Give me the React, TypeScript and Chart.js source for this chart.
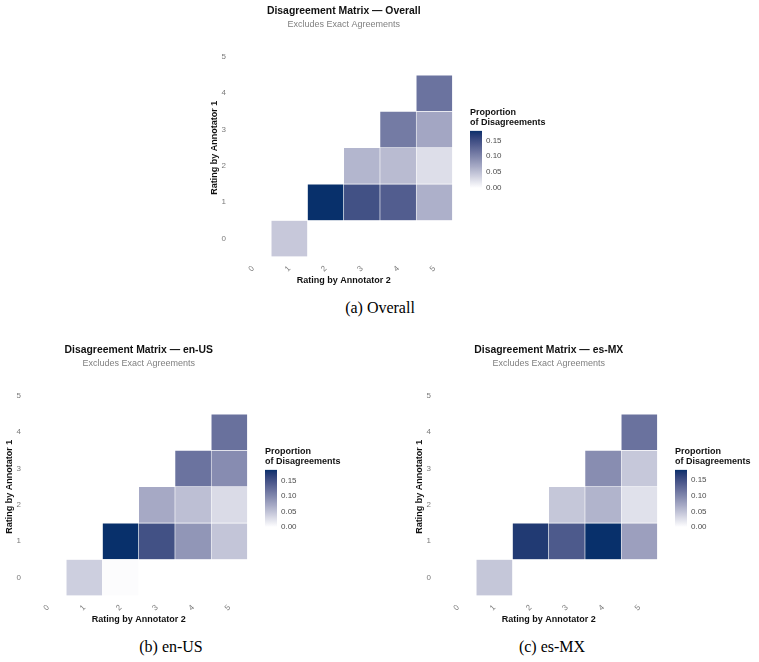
import React, { useEffect, useRef } from 'react';
import { Chart, registerables } from 'chart.js';

Chart.register(...registerables);

const FONT = '"Liberation Sans", Arial, Helvetica, sans-serif';
const SERIF = '"Liberation Serif", "Times New Roman", Times, serif';

// Ratings 0..5 used on both axes
const ratingLabels = ['0', '1', '2', '3', '4', '5'];
const legendTicks = [0, 0.05, 0.1, 0.15];

// Rows: rating by annotator 1, columns: rating by annotator 2 (null = no cell)
const overallMatrix: (number | null)[][] = [
  [null, 0.043, null, null, null, null],
  [null, null, 0.18, 0.147, 0.135, 0.063],
  [null, null, null, 0.058, 0.054, 0.026],
  [null, null, null, null, 0.108, 0.071],
  [null, null, null, null, null, 0.115],
  [null, null, null, null, null, null],
];

const enUSMatrix: (number | null)[][] = [
  [null, 0.039, 0.002, null, null, null],
  [null, null, 0.186, 0.152, 0.088, 0.047],
  [null, null, null, 0.071, 0.052, 0.029],
  [null, null, null, null, 0.119, 0.096],
  [null, null, null, null, null, 0.121],
  [null, null, null, null, null, null],
];

const esMXMatrix: (number | null)[][] = [
  [null, 0.045, null, null, null, null],
  [null, null, 0.172, 0.141, 0.183, 0.078],
  [null, null, null, 0.045, 0.061, 0.024],
  [null, null, null, null, 0.094, 0.044],
  [null, null, null, null, null, 0.118],
  [null, null, null, null, null, null],
];

const LOW_RGB = [255, 255, 255];
const HIGH_RGB = [8, 48, 107];

// --- colour interpolation in CIE Lab (white -> navy) ---
const WX = 0.95047;
const WZ = 1.08883;
const toLin = (c: number) => {
  const s = c / 255;
  return s <= 0.04045 ? s / 12.92 : Math.pow((s + 0.055) / 1.055, 2.4);
};
const fromLin = (v: number) => {
  const s = v <= 0.0031308 ? 12.92 * v : 1.055 * Math.pow(Math.max(v, 0), 1 / 2.4) - 0.055;
  return Math.round(Math.min(1, Math.max(0, s)) * 255);
};
function rgbToLab(rgb: number[]) {
  const [r, g, b] = rgb.map(toLin);
  const x = (0.4124564 * r + 0.3575761 * g + 0.1804375 * b) / WX;
  const y = 0.2126729 * r + 0.7151522 * g + 0.072175 * b;
  const z = (0.0193339 * r + 0.119192 * g + 0.9503041 * b) / WZ;
  const f = (t: number) => (t > 216 / 24389 ? Math.cbrt(t) : ((24389 / 27) * t + 16) / 116);
  const fx = f(x), fy = f(y), fz = f(z);
  return [116 * fy - 16, 500 * (fx - fy), 200 * (fy - fz)];
}
function labToRgb(lab: number[]) {
  const [L, a, b] = lab;
  const fy = (L + 16) / 116;
  const fx = fy + a / 500;
  const fz = fy - b / 200;
  const inv = (t: number) => (t * t * t > 216 / 24389 ? t * t * t : (116 * t - 16) / (24389 / 27));
  const x = inv(fx) * WX, y = inv(fy), z = inv(fz) * WZ;
  const r = 3.2404542 * x - 1.5371385 * y - 0.4985314 * z;
  const g = -0.969266 * x + 1.8760108 * y + 0.041556 * z;
  const bl = 0.0556434 * x - 0.2040259 * y + 1.0572252 * z;
  return [fromLin(r), fromLin(g), fromLin(bl)];
}
const LOW_LAB = rgbToLab(LOW_RGB);
const HIGH_LAB = rgbToLab(HIGH_RGB);
function rampColor(t: number) {
  const k = Math.min(1, Math.max(0, t));
  const lab = LOW_LAB.map((v, i) => v + (HIGH_LAB[i] - v) * k);
  const [r, g, b] = labToRgb(lab);
  return `rgb(${r},${g},${b})`;
}

const maxOf = (m: (number | null)[][]) =>
  Math.max(...m.flat().filter((v): v is number => v !== null));

// --- geometry of one panel ---
const HM_W = 250;
const HM_H = 286;
const Y_AXIS_W = 30;
const X_AXIS_H = 29.2;

function buildHeatmap(canvas: HTMLCanvasElement, matrix: (number | null)[][], title: string) {
  const max = maxOf(matrix);
  const datasets = matrix.map((row, r) => ({
    label: `Annotator 1 = ${ratingLabels[r]}`,
    data: row.map((v) => (v === null ? null : [r - 0.5, r + 0.5])),
    backgroundColor: row.map((v) => (v === null ? 'rgba(0,0,0,0)' : rampColor(v / max))),
    borderColor: '#ffffff',
    borderWidth: 0.6,
    borderSkipped: false,
    grouped: false,
    categoryPercentage: 1,
    barPercentage: 1,
  }));

  return new Chart(canvas, {
    type: 'bar',
    data: { labels: ratingLabels, datasets: datasets as any },
    options: {
      responsive: false,
      animation: false,
      devicePixelRatio: 1,
      layout: { padding: { top: 0, right: 2.5, bottom: 0, left: 0 } },
      plugins: {
        legend: { display: false },
        tooltip: { enabled: false },
        title: {
          display: true,
          text: title,
          color: '#111111',
          fullSize: false,
          font: { family: FONT, size: 10.4, weight: 'bold', lineHeight: 1.2 },
          padding: { top: 5, bottom: 1.5 },
        },
        subtitle: {
          display: true,
          text: 'Excludes Exact Agreements',
          color: '#808080',
          fullSize: false,
          font: { family: FONT, size: 9, lineHeight: 1.2 },
          padding: { top: 0.5, bottom: 8.5 },
        },
      },
      scales: {
        x: {
          type: 'category',
          offset: true,
          grid: { display: false, drawTicks: false },
          border: { display: false },
          ticks: {
            autoSkip: false,
            minRotation: 45,
            maxRotation: 45,
            color: '#7a7a7a',
            font: { family: FONT, size: 8 },
            padding: 7,
          },
          title: {
            display: true,
            text: 'Rating by Annotator 2',
            color: '#111111',
            font: { family: FONT, size: 9, weight: 'bold', lineHeight: 1.2 },
            padding: { top: 0, bottom: 0 },
          },
          afterFit: (s: any) => {
            s.height = X_AXIS_H;
          },
        },
        y: {
          type: 'linear',
          min: -0.5,
          max: 5.5,
          grid: { display: false, drawTicks: false },
          border: { display: false },
          afterBuildTicks: (s: any) => {
            s.ticks = ratingLabels.map((_, i) => ({ value: i }));
          },
          ticks: {
            color: '#7a7a7a',
            font: { family: FONT, size: 8 },
            padding: 9,
            callback: (v: any) => ratingLabels[Number(v)] ?? '',
          },
          title: {
            display: true,
            text: 'Rating by Annotator 1',
            color: '#111111',
            font: { family: FONT, size: 9, weight: 'bold', lineHeight: 1.2 },
            padding: { top: 4.6, bottom: 0 },
          },
          afterFit: (s: any) => {
            s.width = Y_AXIS_W;
          },
        },
      },
    } as any,
  });
}

function buildColorbar(canvas: HTMLCanvasElement, matrix: (number | null)[][]) {
  const max = maxOf(matrix);
  return new Chart(canvas, {
    type: 'bar',
    data: {
      labels: [''],
      datasets: [
        {
          data: [[0, max]] as any,
          borderWidth: 0,
          categoryPercentage: 1,
          barPercentage: 1,
          backgroundColor: (ctx: any) => {
            const chart = ctx.chart;
            const y = chart.scales?.y;
            if (!chart.chartArea || !y) return rampColor(0.5);
            const top = y.getPixelForValue(max);
            const bottom = y.getPixelForValue(0);
            const g = chart.ctx.createLinearGradient(0, bottom, 0, top);
            const steps = 24;
            for (let i = 0; i <= steps; i++) g.addColorStop(i / steps, rampColor(i / steps));
            return g;
          },
        },
      ],
    },
    options: {
      responsive: false,
      animation: false,
      devicePixelRatio: 1,
      layout: { padding: { left: 5, bottom: 10, top: 0, right: 0 } },
      plugins: {
        legend: { display: false },
        tooltip: { enabled: false },
        title: {
          display: true,
          text: ['Proportion', 'of Disagreements'],
          align: 'start',
          color: '#111111',
          font: { family: FONT, size: 9, weight: 'bold', lineHeight: 1.12 },
          padding: { top: 7.5, bottom: 3.2 },
        },
      },
      scales: {
        x: { display: false },
        y: {
          position: 'right',
          min: 0,
          max,
          grid: { display: false, drawTicks: false },
          border: { display: false },
          afterBuildTicks: (s: any) => {
            s.ticks = legendTicks.map((v) => ({ value: v }));
          },
          ticks: {
            color: '#4d4d4d',
            font: { family: FONT, size: 8 },
            padding: 4,
            callback: (v: any) => Number(v).toFixed(2),
          },
          afterFit: (s: any) => {
            s.width = 73;
          },
        },
      },
    } as any,
  });
}

function Panel(props: { matrix: (number | null)[][]; title: string; left: number; top: number }) {
  const { matrix, title, left, top } = props;
  const heatRef = useRef<HTMLCanvasElement>(null);
  const barRef = useRef<HTMLCanvasElement>(null);

  useEffect(() => {
    const heat = buildHeatmap(heatRef.current!, matrix, title);
    const bar = buildColorbar(barRef.current!, matrix);
    return () => {
      heat.destroy();
      bar.destroy();
    };
  }, [matrix, title]);

  return (
    <>
      <canvas
        ref={heatRef}
        width={HM_W}
        height={HM_H}
        style={{ position: 'absolute', left, top, width: HM_W, height: HM_H }}
      />
      <canvas
        ref={barRef}
        width={90}
        height={98}
        style={{ position: 'absolute', left: left + 260, top: top + 100, width: 90, height: 98 }}
      />
    </>
  );
}

function Caption(props: { text: string; center: number; top: number }) {
  return (
    <div
      style={{
        position: 'absolute',
        left: props.center - 100,
        top: props.top,
        width: 200,
        textAlign: 'center',
        fontFamily: SERIF,
        fontSize: 16,
        lineHeight: '20px',
        color: '#000',
      }}
    >
      {props.text}
    </div>
  );
}

export default function App() {
  return (
    <div
      style={{
        position: 'absolute',
        left: 0,
        top: 0,
        width: 759,
        height: 662,
        overflow: 'hidden',
        background: '#ffffff',
      }}
    >
      <Panel matrix={overallMatrix} title="Disagreement Matrix — Overall" left={205} top={0} />
      <Caption text="(a) Overall" center={380} top={298} />
      <Panel matrix={enUSMatrix} title="Disagreement Matrix — en-US" left={0} top={339} />
      <Panel matrix={esMXMatrix} title="Disagreement Matrix — es-MX" left={410} top={339} />
      <Caption text="(b) en-US" center={171} top={636.5} />
      <Caption text="(c) es-MX" center={552} top={636.5} />
    </div>
  );
}
